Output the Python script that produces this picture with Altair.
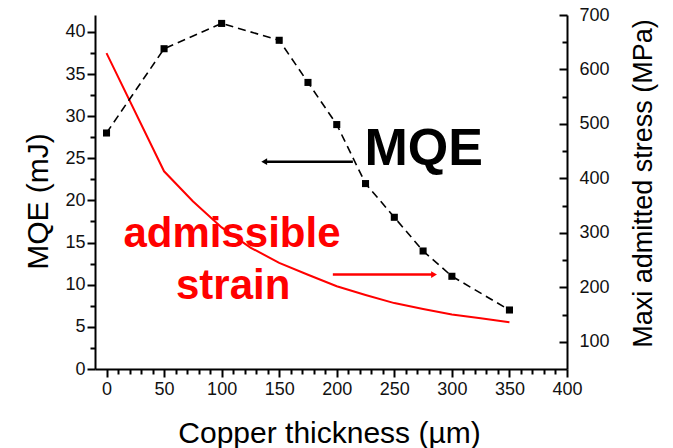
import altair as alt
import pandas as pd

# ---- data ----
thickness_mqe = [0, 50, 100, 150, 175, 200, 225, 250, 275, 300, 350]
mqe_mj = [28, 38, 41, 39, 34, 29, 22, 18, 14, 11, 7]

thickness_stress = [0, 50, 75, 100, 125, 150, 175, 200, 225, 250, 275, 300, 325, 350]
stress_mpa = [630, 413, 358, 310, 273, 245, 223, 202, 186, 171, 160, 150, 143, 136]

x_tick_values = list(range(0, 401, 10))
mqe_tick_values = [i * 2.5 for i in range(17)]
stress_tick_values = list(range(100, 701, 50))

FONT = "Liberation Sans"
W, H = 472, 354

df_mqe = pd.DataFrame({"t": thickness_mqe, "mqe": mqe_mj})
df_str = pd.DataFrame({"t": thickness_stress, "stress": stress_mpa})

x_domain = [-10, 400]
y_left_domain = [0, 42]
y_right_domain = [50, 700]

x_axis = alt.Axis(
    values=x_tick_values,
    labelExpr="datum.value % 50 === 0 ? datum.label : ''",
    format="d",
    tickSize={"condition": {"test": "datum.value % 50 === 0", "value": 8}, "value": 5},
    tickWidth=2, domainWidth=2, domainColor="black", tickColor="black",
    labelFontSize=18, labelFont=FONT, labelColor="#111", labelPadding=3,
    grid=False,
    title="Copper thickness (µm)", titleFont=FONT, titleFontSize=30,
    titleFontWeight="normal", titleColor="black",
    titleX=234, titleY=73, titleBaseline="alphabetic", titleAlign="center",
    labelFlush=False, labelOverlap=False,
)

left_axis = alt.Axis(
    orient="left",
    values=mqe_tick_values,
    labelExpr="datum.value % 5 === 0 ? datum.label : ''",
    format="d",
    tickSize={"condition": {"test": "datum.value % 5 === 0", "value": 8}, "value": 5},
    tickWidth=2, domainWidth=2, domainColor="black", tickColor="black",
    labelFontSize=18, labelFont=FONT, labelColor="#111", labelPadding=2,
    grid=False,
    title="MQE (mJ)", titleFont=FONT, titleFontSize=30, titleFontWeight="normal",
    titleColor="black", titleAngle=270, titleX=-57, titleY=186,
    titleBaseline="middle", titleAlign="center",
    labelFlush=False, labelOverlap=False,
)

right_axis = alt.Axis(
    orient="left", offset=-W,
    values=stress_tick_values,
    labelExpr="datum.value % 100 === 0 ? datum.label : ''",
    format="d",
    tickSize={"condition": {"test": "datum.value % 100 === 0", "value": 8}, "value": 5},
    tickWidth=2, domainWidth=2, domainColor="black", tickColor="black",
    labelFontSize=18, labelFont=FONT, labelColor="#111",
    labelAlign="left", labelPadding=-20,
    grid=False,
    title="Maxi admitted stress (MPa)", titleFont=FONT, titleFontSize=27,
    titleFontWeight="normal", titleColor="black", titleAngle=270,
    titleX=76, titleY=168, titleBaseline="middle", titleAlign="center",
    titleLimit=1000,
    labelFlush=False, labelOverlap=False,
)


def xs():
    return alt.Scale(domain=x_domain, nice=False, zero=False)


def yls():
    return alt.Scale(domain=y_left_domain, nice=False, zero=False)


# MQE: dashed line with square markers (single chart -> one set of axes)
mqe_chart = alt.Chart(df_mqe).mark_line(
    color="black", strokeWidth=1.6, strokeDash=[8, 5],
    point=alt.OverlayMarkDef(shape="square", filled=True, color="black",
                             size=50, opacity=1),
).encode(
    x=alt.X("t:Q", scale=xs(), axis=x_axis),
    y=alt.Y("mqe:Q", scale=yls(), axis=left_axis),
)

# admissible stress: red line on the right-hand scale
stress_chart = alt.Chart(df_str).mark_line(color="#ff0000", strokeWidth=2).encode(
    x=alt.X("t:Q", scale=xs(), axis=None),
    y=alt.Y("stress:Q", scale=alt.Scale(domain=y_right_domain, nice=False, zero=False),
            axis=right_axis),
)


def xd(v):
    return alt.XDatum(v, scale=xs(), axis=None)


def yd(v):
    return alt.YDatum(v, scale=yls(), axis=None)


black_arrow = alt.Chart().mark_rule(color="black", strokeWidth=2.5).encode(
    x=xd(138), x2=alt.X2Datum(214), y=yd(24.6))
black_head = alt.Chart().mark_point(
    shape="triangle-left", filled=True, color="black", size=45, opacity=1
).encode(x=xd(137), y=yd(24.6))

red_arrow = alt.Chart().mark_rule(color="#ff0000", strokeWidth=2.5).encode(
    x=xd(196.6), x2=alt.X2Datum(283), y=yd(11.2))
red_head = alt.Chart().mark_point(
    shape="triangle-right", filled=True, color="#ff0000", size=45, opacity=1
).encode(x=xd(284.5), y=yd(11.2))

txt_mqe = alt.Chart().mark_text(
    text="MQE", font=FONT, fontSize=52, fontWeight="bold", color="black",
    align="center", baseline="alphabetic"
).encode(x=xd(275.5), y=yd(24.2))
txt_adm = alt.Chart().mark_text(
    text="admissible", font=FONT, fontSize=42, fontWeight="bold", color="#ff0000",
    align="center", baseline="alphabetic"
).encode(x=xd(109), y=yd(14.5))
txt_str = alt.Chart().mark_text(
    text="strain", font=FONT, fontSize=42, fontWeight="bold", color="#ff0000",
    align="center", baseline="alphabetic"
).encode(x=xd(110), y=yd(8.3))

annotations = alt.layer(black_arrow, black_head, red_arrow, red_head,
                        txt_mqe, txt_adm, txt_str)

chart = (
    alt.layer(stress_chart, mqe_chart, annotations)
    .resolve_scale(x="independent", y="independent")
    .properties(
        width=W, height=H,
        autosize=alt.AutoSizeParams(type="none"),
        padding={"left": 95, "top": 15, "right": 106, "bottom": 79},
        background="white",
    )
    .configure_view(stroke=None)
)

chart.save("out.html", embed_options={"renderer": "svg", "actions": False})
